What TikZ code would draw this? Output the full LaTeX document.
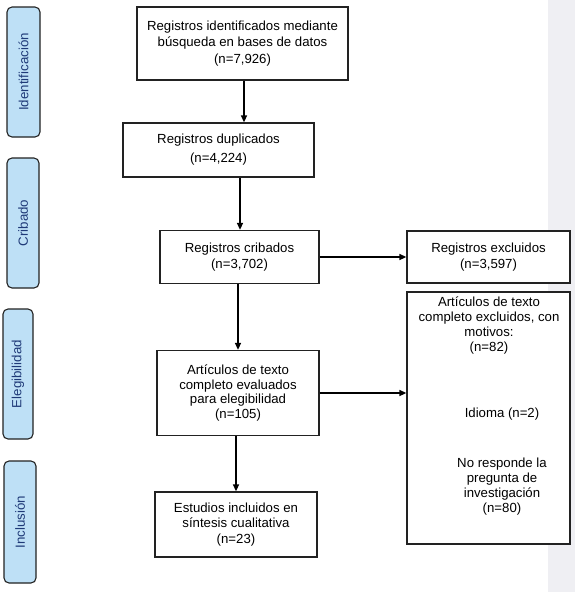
\documentclass[tikz,border=0pt]{standalone}
\usepackage{fontspec}
\setmainfont{Liberation Sans}
\usetikzlibrary{arrows.meta}
\definecolor{band}{HTML}{EFEFF3}
\definecolor{sidefill}{HTML}{BEE0F6}
\definecolor{sidetext}{HTML}{1F3A78}
\definecolor{edge}{HTML}{222222}
\begin{document}
\begin{tikzpicture}[x=1pt,y=-1pt,
  box/.style={draw=edge, line width=1.3pt, fill=white, align=center, inner sep=0pt},
  side/.style={draw=edge, line width=1.1pt, fill=sidefill, rounded corners=5pt, rotate=90,
    inner sep=0pt, text=sidetext, font=\fontsize{13.3}{15}\selectfont},
  arr/.style={draw=black, line width=1.5pt, -{Triangle[length=7pt,width=6pt]}},
  txt/.style={align=center, inner sep=0pt}
]
\useasboundingbox (0,0) rectangle (575,592);
\fill[white] (0,0) rectangle (575,592);
\fill[band] (548,0) rectangle (575,592);

% side labels
\node[side, minimum width=130, minimum height=33] (s1) at (23.5,72) {Identificación};
\node[side, minimum width=130, minimum height=32] (s2) at (23,223) {Cribado};
\node[side, minimum width=130, minimum height=30] (s3) at (18,374) {Elegibilidad};
\node[side, minimum width=122, minimum height=32] (s4) at (20,522) {Inclusión};

% main boxes
\node[box, minimum width=211, minimum height=73, font=\fontsize{13.2}{16.5}\selectfont] (b1) at (242.5,43.5)
  {Registros identificados mediante\\búsqueda en bases de datos\\(n=7,926)};
\node[box, minimum width=191, minimum height=54, font=\fontsize{13.2}{19}\selectfont] (b2) at (218.5,150)
  {Registros duplicados\\(n=4,224)};
\node[box, minimum width=159, minimum height=53, font=\fontsize{13.2}{16}\selectfont] (b3) at (239.5,257)
  {Registros cribados\\(n=3,702)};
\node[box, minimum width=162, minimum height=85, font=\fontsize{13.2}{14.5}\selectfont] (b4) at (238,393)
  {Artículos de texto\\completo evaluados\\para elegibilidad\\(n=105)};
\node[box, minimum width=162, minimum height=65, font=\fontsize{13.2}{15.5}\selectfont] (b5) at (236,524.5)
  {Estudios incluidos en\\síntesis cualitativa\\(n=23)};

% exclusion boxes
\node[box, minimum width=163, minimum height=52, font=\fontsize{13.2}{16}\selectfont] (e1) at (488.5,257)
  {Registros excluidos\\(n=3,597)};
\node[box, minimum width=163, minimum height=252] (e2) at (488.5,418) {};
\node[txt, font=\fontsize{13.2}{15}\selectfont] (e2a) at (489,326)
  {Artículos de texto\\completo excluidos, con\\motivos:\\(n=82)};
\node[txt, font=\fontsize{13.2}{15}\selectfont] (e2b) at (502,414) {Idioma (n=2)};
\node[txt, font=\fontsize{13.2}{15}\selectfont] (e2c) at (502,487)
  {No responde la\\pregunta de\\investigación\\(n=80)};

% connectors
\draw[arr] ([xshift=1.5pt]b1.south) -- ([xshift=1.5pt]b1.south |- b2.north);
\draw[arr] ([xshift=0.5pt]b2.south -| b3.north) -- ([xshift=0.5pt]b3.north);
\draw[arr] (b3.south -| b4.north) -- (b4.north);
\draw[arr] (b4.south -| b5.north) -- (b5.north);
\draw[arr] (b3.east) -- (b3.east -| e1.west);
\draw[arr] (b4.east) -- (b4.east -| e2.west);
\end{tikzpicture}
\end{document}
